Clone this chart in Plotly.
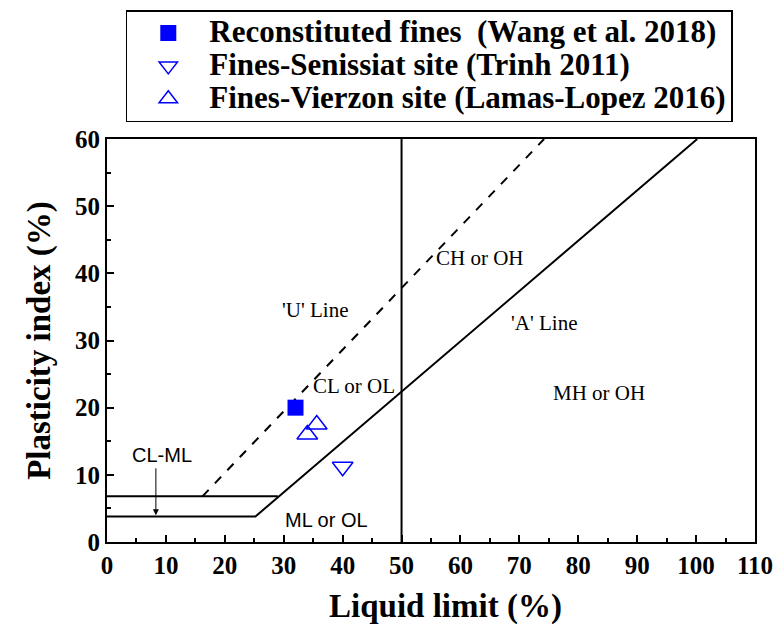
import plotly.graph_objects as go

# ---- data ----
wang_ll = [32]
wang_pi = [20]
trinh_ll = [40]
trinh_pi = [11.2]
lamas_ll = [35.6, 34.0]
lamas_pi = [17.5, 16.0]

a_line_ll = [0, 25.2, 100.2]
a_line_pi = [3.8, 3.8, 60]
clml_top_ll = [0, 29]
clml_top_pi = [6.8, 6.8]
u_line_ll = [16.2, 74.2]
u_line_pi = [6.8, 60]
ll50_ll = [50, 50]
ll50_pi = [0, 60]

zone_labels = ["'U' Line", "CH or OH", "'A' Line", "CL or OL", "MH or OH"]
zone_ll = [35.3, 63.3, 74.2, 42.0, 83.6]
zone_pi = [34.5, 42.3, 32.6, 23.2, 22.2]

x_ticks = list(range(0, 111, 10))
y_ticks = list(range(0, 61, 10))

SERIF = "Liberation Serif, Times New Roman, serif"
SANS = "Liberation Sans, Arial, sans-serif"


def legend_name(s):
    return '<b><span style="font-size:31px">' + s + '</span></b>'


fig = go.Figure()

line_style = dict(color="black", width=2)
fig.add_trace(go.Scatter(x=a_line_ll, y=a_line_pi, mode="lines", line=line_style,
                         showlegend=False, hoverinfo="skip"))
fig.add_trace(go.Scatter(x=clml_top_ll, y=clml_top_pi, mode="lines", line=line_style,
                         showlegend=False, hoverinfo="skip"))
fig.add_trace(go.Scatter(x=u_line_ll, y=u_line_pi, mode="lines",
                         line=dict(color="black", width=2, dash="dash"),
                         showlegend=False, hoverinfo="skip"))
fig.add_trace(go.Scatter(x=ll50_ll, y=ll50_pi, mode="lines", line=line_style,
                         showlegend=False, hoverinfo="skip"))

fig.add_trace(go.Scatter(x=wang_ll, y=wang_pi, mode="markers",
                         name=legend_name("Reconstituted fines&nbsp; (Wang et al. 2018)"),
                         marker=dict(symbol="square", size=16, color="#0000FF")))
fig.add_trace(go.Scatter(x=trinh_ll, y=trinh_pi, mode="markers",
                         name=legend_name("Fines-Senissiat site (Trinh 2011)"),
                         marker=dict(symbol="triangle-down-open", size=18, color="#0000FF",
                                     line=dict(width=1.5, color="#0000FF"))))
fig.add_trace(go.Scatter(x=lamas_ll, y=lamas_pi, mode="markers",
                         name=legend_name("Fines-Vierzon site (Lamas-Lopez 2016)"),
                         marker=dict(symbol="triangle-up-open", size=18, color="#0000FF",
                                     line=dict(width=1.5, color="#0000FF"))))

for t, x, y in zip(zone_labels, zone_ll, zone_pi):
    fig.add_annotation(x=x, y=y, text=t, showarrow=False,
                       font=dict(family=SERIF, size=21, color="black"))

fig.add_annotation(x=9.3, y=13.0, text="CL-ML", showarrow=False,
                   font=dict(family=SANS, size=20, color="black"))
fig.add_annotation(x=37.2, y=3.3, text="ML or OL", showarrow=False,
                   font=dict(family=SANS, size=20, color="black"))
fig.add_annotation(x=8.3, y=4.0, ax=8.3, ay=11.2, axref="x", ayref="y",
                   text="", showarrow=True, arrowhead=2, arrowsize=1.2,
                   arrowwidth=1, arrowcolor="black")

# x-axis title (placed as annotation to match the reference's off-centre position)
fig.add_annotation(xref="paper", yref="paper", x=0.522, y=-0.161,
                   xanchor="center", yanchor="middle", showarrow=False,
                   text="<b>Liquid limit (%)</b>",
                   font=dict(family=SERIF, size=33, color="black"))

axis_common = dict(
    showline=True, linecolor="black", linewidth=2, mirror=True,
    ticks="inside", ticklen=7, tickwidth=1.5, tickcolor="black",
    showgrid=False, zeroline=False,
    tickfont=dict(family=SERIF, size=25, color="black"),
    minor=dict(ticks="inside", ticklen=4, tickwidth=1.5, tickcolor="black", dtick=5),
)

fig.update_xaxes(range=[0, 110], tickvals=x_ticks,
                 ticktext=[f"<b>{v}</b>" for v in x_ticks],
                 **axis_common)
fig.update_yaxes(range=[0, 60], tickvals=y_ticks,
                 ticktext=[f"<b>{v}</b>" for v in y_ticks],
                 title=dict(text="<b>Plasticity index (%)</b>",
                            font=dict(family=SERIF, size=33, color="black"), standoff=14),
                 **axis_common)

fig.update_layout(
    width=782, height=626,
    margin=dict(l=107, r=27, t=139, b=84, autoexpand=False),
    plot_bgcolor="white", paper_bgcolor="white",
    legend=dict(x=0.029, y=1.32, xanchor="left", yanchor="top",
                bordercolor="black", borderwidth=1.5, bgcolor="white",
                font=dict(family=SERIF, size=23, color="black"),
                itemwidth=72, tracegroupgap=0),
    showlegend=True,
)

fig.write_html("out.html")
